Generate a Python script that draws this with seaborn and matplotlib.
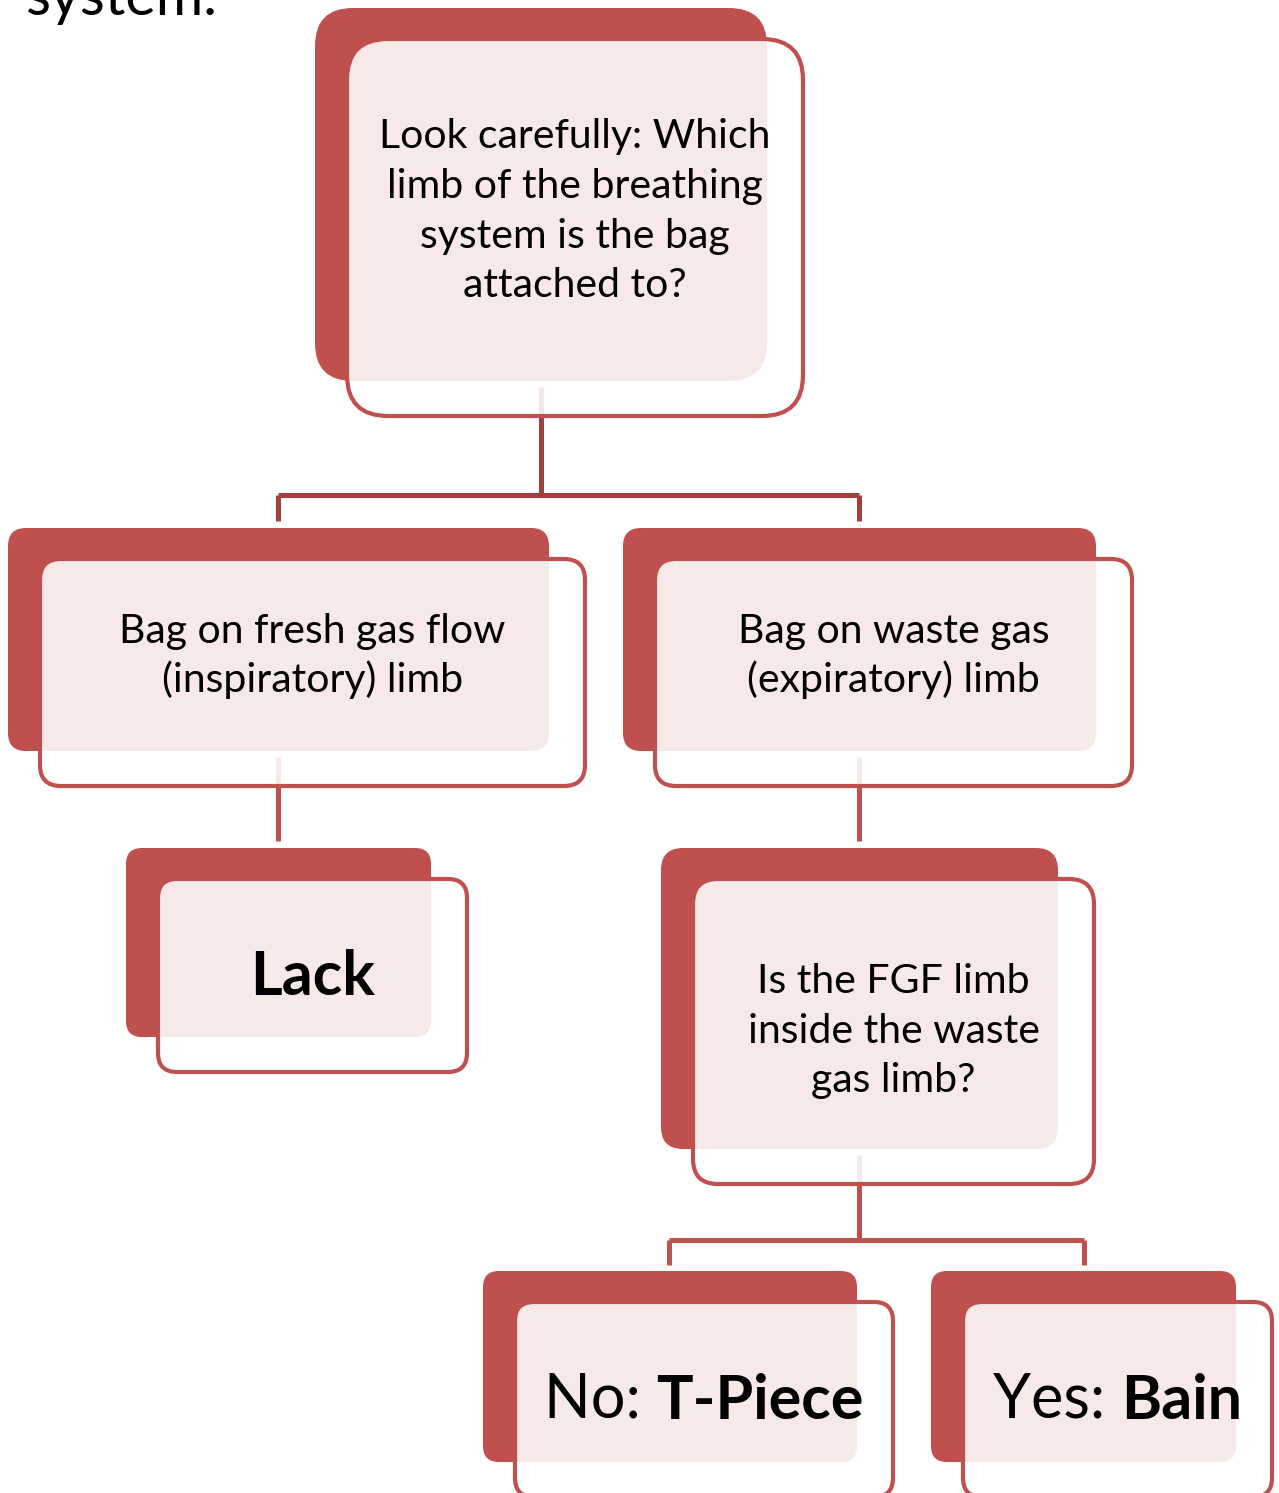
import matplotlib
matplotlib.use("Agg")
import matplotlib.pyplot as plt
from matplotlib.patches import FancyBboxPatch
import seaborn as sns

# ---------------- content ----------------
header_text = "system."
question_lines = [
    ["Look carefully: Which", "limb of the breathing", "system is the bag", "attached to?"],
    ["Bag on fresh gas flow", "(inspiratory) limb"],
    ["Bag on waste gas", "(expiratory) limb"],
    ["Is the FGF limb", "inside the waste", "gas limb?"],
]
leaf_prefix = ["", "No: ", "Yes: "]
leaf_name = ["Lack", "T-Piece", "Bain"]

# ---------------- layout (pixels) ----------------
W, H = 1279, 1493
# back (solid) boxes: x0, y0, x1, y1
q_boxes = [(315, 8, 767, 381), (8, 528, 549, 751), (623, 528, 1096, 751), (661, 848, 1058, 1149)]
q_round = [38, 18, 18, 22]
q_baselines = [[148, 198, 248, 297], [643, 692], [643, 692], [993, 1043, 1092]]
leaf_boxes = [(126, 848, 431, 1037), (483, 1271, 857, 1462), (931, 1271, 1236, 1462)]
leaf_round = [16, 16, 16]
leaf_baseline = [995, 1418, 1418]
front_off = (30, 29, 38, 37)

connectors = [
    ([541, 541], [387, 495], "#A2403D"),
    ([278, 859], [495, 495], "#A2403D"),
    ([278, 278], [495, 521], "#A2403D"),
    ([859, 859], [495, 521], "#A2403D"),
    ([278, 278], [757, 841], "#C0504D"),
    ([859, 859], [757, 841], "#C0504D"),
    ([859, 859], [1155, 1240], "#C0504D"),
    ([669, 1084], [1240, 1240], "#C0504D"),
    ([669, 669], [1240, 1265], "#C0504D"),
    ([1084, 1084], [1240, 1265], "#C0504D"),
]

RED = "#C0504D"

sns.set_theme(style="white")
plt.rcParams["font.family"] = ["Lato", "DejaVu Sans"]

fig = plt.figure(figsize=(W / 100, H / 100), dpi=100)
ax = fig.add_axes([0, 0, 1, 1])
ax.set_xlim(0, W)
ax.set_ylim(H, 0)
ax.axis("off")


def draw_node(box, r):
    x0, y0, x1, y1 = box
    back = FancyBboxPatch((x0, y0), x1 - x0, y1 - y0,
                          boxstyle=f"round,pad=0,rounding_size={r}",
                          facecolor=RED, edgecolor="none", zorder=1)
    ax.add_patch(back)
    fx0, fy0 = x0 + front_off[0] + 2, y0 + front_off[1] + 2
    fx1, fy1 = x1 + front_off[2] - 2, y1 + front_off[3] - 2
    front = FancyBboxPatch((fx0, fy0), fx1 - fx0, fy1 - fy0,
                           boxstyle=f"round,pad=0,rounding_size={r + 3}",
                           facecolor=(1, 1, 1, 0.88), edgecolor=RED,
                           linewidth=3.0, zorder=3)
    ax.add_patch(front)
    return (fx0 + fx1) / 2


for xs, ys, c in connectors:
    ax.plot(xs, ys, color=c, lw=3.6, solid_capstyle="butt", zorder=2)

BODY = 29.5
for lines, box, r, bls in zip(question_lines, q_boxes, q_round, q_baselines):
    cx = draw_node(box, r)
    for line, bl in zip(lines, bls):
        ax.text(cx, bl, line, ha="center", va="baseline", fontsize=BODY,
                color="black", zorder=4)

LEAF = 44
leaf_texts = []
for pre, name, box, r, bl in zip(leaf_prefix, leaf_name, leaf_boxes, leaf_round, leaf_baseline):
    cx = draw_node(box, r)
    if not pre:
        ax.text(cx, bl, name, ha="center", va="baseline", fontsize=LEAF,
                fontweight="bold", color="black", zorder=4)
        continue
    t1 = ax.text(cx, bl, pre, ha="left", va="baseline", fontsize=LEAF,
                 color="black", zorder=4)
    t2 = ax.annotate(name, xy=(1, 0), xycoords=t1, ha="left", va="bottom",
                     fontsize=LEAF, fontweight="bold", color="black", zorder=4,
                     annotation_clip=False)
    leaf_texts.append((t1, t2, cx))

ax.text(25, 15, header_text, ha="left", va="baseline", fontsize=41.5, color="black", zorder=4)

# centre the two-part leaf labels
fig.canvas.draw()
for t1, t2, cx in leaf_texts:
    b1 = t1.get_window_extent()
    b2 = t2.get_window_extent()
    total = b2.x1 - b1.x0
    x, y = t1.get_position()
    t1.set_position((cx - total / 2, y))

fig.savefig("out.png", dpi=100)
